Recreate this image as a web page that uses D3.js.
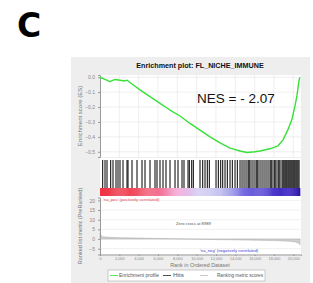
<!DOCTYPE html>
<html>
<head>
<meta charset="utf-8">
<script src="https://cdn.jsdelivr.net/npm/d3@7"></script>
<style>
  body { margin: 0; background: #fff; }
  svg { display: block; font-family: "Liberation Sans", Arial, sans-serif; }
</style>
</head>
<body>
<div id="chart"></div>
<script>
// enrichment profile (rank, ES)
var esRanks = [0, 518, 1035, 1553, 2070, 2588, 2795, 3105, 4140, 5175, 6210, 7245, 8280, 9315, 10350, 11385, 12420, 13455, 14490, 15215, 16043, 16560, 17595, 18423, 18941, 19458, 19872, 20183, 20390, 20597, 20700];
var esValues = [0, -0.015, -0.03, -0.015, -0.02, -0.025, -0.02, -0.035, -0.085, -0.13, -0.175, -0.22, -0.26, -0.31, -0.355, -0.40, -0.44, -0.475, -0.495, -0.505, -0.50, -0.495, -0.48, -0.46, -0.42, -0.35, -0.28, -0.19, -0.12, -0.02, 0.0];

// gene set hits (rank positions)
var hitRanks = [279, 518, 725, 1107, 1346, 1656, 1863, 2070, 2381, 2795, 2898, 3312, 3830, 4347, 4658, 5175, 5693, 5900, 6210, 6521, 6831, 7245, 7763, 8073, 8487, 8694, 9108,
  9243, 9491, 9657, 10350, 10629, 10868, 11106, 11313, 12006, 12244, 12492, 12699, 12938, 13176, 13455, 13693, 13973, 14211, 14490, 14697, 14904, 15111, 15318, 15525, 15732, 15939, 16146, 16353, 16560, 16767, 16974, 17181, 17388, 17595, 17802, 18009, 18216, 18423, 18630, 18837, 19044, 19251, 19458, 19665, 19872, 20079, 20286, 20493,
  15420, 16250, 17700, 18100, 18520, 18940, 19150, 19350, 19560, 19770, 19980, 20180, 20390, 20600];

// ranked list metric
var metricRanks = [0, 60, 150, 300, 600, 1000, 2000, 4000, 6000, 8989, 12000, 15000, 18000, 19500, 20200, 20500, 20650, 20700];
var metricValues = [3.0, 2.4, 1.6, 1.2, 1.0, 0.9, 0.7, 0.5, 0.3, 0, -0.3, -0.5, -0.8, -1.1, -1.5, -2.0, -2.6, -3.0];

// colour band of the ranked list
var bandStops = [0, 3000, 6000, 8000, 10000, 12500, 14500, 17000, 19500, 20700];
var bandColors = ["#ee3344", "#f04858", "#f27090", "#f4a8d8", "#d8d0f4", "#c4c4f0", "#7a70e0", "#5848d4", "#3a20c0", "#200aa0"];

var esTicks = [0, -0.1, -0.2, -0.3, -0.4, -0.5];
var metricTicks = [20, 15, 10, 5, 0, -5];
var rankTicks = [0, 2000, 4000, 6000, 8000, 10000, 12000, 14000, 16000, 18000, 20000];
var nGenes = 20700;

var W = 313, H = 283;
var svg = d3.select("#chart").append("svg").attr("width", W).attr("height", H);

// panel "C"
svg.append("text").attr("x", 17).attr("y", 37)
  .style("font-family", "DejaVu Sans").style("font-weight", "900").style("font-size", "33px")
  .text("C");

// grey panel
svg.append("rect").attr("x", 71).attr("y", 57).attr("width", 239).attr("height", 226).attr("fill", "#eeeeee");

var left = 100, right = 301;
var x = d3.scaleLinear().domain([0, 20800]).range([left, right]);

svg.append("text").attr("x", 200).attr("y", 68).attr("text-anchor", "middle")
  .style("font-weight", "bold").style("font-size", "7.2px").attr("fill", "#111")
  .text("Enrichment plot: FL_NICHE_IMMUNE");

// ---- ES plot
var yEs = d3.scaleLinear().domain([-0.535, 0.015]).range([157, 75]);
svg.append("rect").attr("x", left).attr("y", 75).attr("width", right - left).attr("height", 82).attr("fill", "#fff");

var gridX = svg.append("g");
function vgrid(y0, y1) {
  gridX.selectAll(null).data(rankTicks.slice(1)).enter().append("line")
    .attr("x1", d => x(d)).attr("x2", d => x(d)).attr("y1", y0).attr("y2", y1)
    .attr("stroke", "#e4e4e4").attr("stroke-width", 0.6);
}

svg.append("g").selectAll("line").data(esTicks).enter().append("line")
  .attr("x1", left).attr("x2", right).attr("y1", d => yEs(d)).attr("y2", d => yEs(d))
  .attr("stroke", "#e4e4e4").attr("stroke-width", 0.6);

var esAxis = svg.append("g").attr("transform", "translate(" + left + ",0)")
  .call(d3.axisLeft(yEs).tickValues(esTicks).tickFormat(d3.format(".1f")).tickSize(2).tickPadding(3));
esAxis.select(".domain").attr("stroke", "#999");
esAxis.selectAll("line").attr("stroke", "#999");
esAxis.selectAll("text").attr("fill", "#888").style("font-size", "5px").style("font-family", "Liberation Sans");

svg.append("text").attr("transform", "translate(82," + 116 + ") rotate(-90)").attr("text-anchor", "middle")
  .style("font-size", "6px").attr("fill", "#777").text("Enrichment score (ES)");

var line = d3.line().x((d, i) => x(esRanks[i])).y(d => yEs(d));
svg.append("path").datum(esValues).attr("d", line).attr("fill", "none")
  .attr("stroke", "#38e038").attr("stroke-width", 1.4).attr("stroke-linejoin", "round");

svg.append("text").attr("x", 197).attr("y", 103).style("font-size", "13.5px").attr("fill", "#111")
  .text("NES = - 2.07");

// ---- hits
svg.append("rect").attr("x", left).attr("y", 158).attr("width", right - left).attr("height", 39).attr("fill", "#fff");
svg.append("g").selectAll("line").data(hitRanks).enter().append("line")
  .attr("x1", d => x(d)).attr("x2", d => x(d)).attr("y1", 160).attr("y2", 188)
  .attr("stroke", "#000").attr("stroke-width", 1);

// colour band
var bandColor = d3.scaleLinear().domain(bandStops).range(bandColors);
var bandSteps = d3.range(0, nGenes, 100);
svg.append("g").selectAll("rect").data(bandSteps).enter().append("rect")
  .attr("x", d => x(d)).attr("width", x(100) - x(0) + 0.3).attr("y", 188).attr("height", 8)
  .attr("fill", d => bandColor(d));

// ---- ranked list metric
var yM = d3.scaleLinear().domain([-8, 21.5]).range([254.5, 197.5]);
svg.append("rect").attr("x", left).attr("y", 197).attr("width", right - left).attr("height", 57.5).attr("fill", "#fff");
svg.append("g").selectAll("line").data(metricTicks).enter().append("line")
  .attr("x1", left).attr("x2", right).attr("y1", d => yM(d)).attr("y2", d => yM(d))
  .attr("stroke", "#e8e8e8").attr("stroke-width", 0.6);

vgrid(75, 254.5);

var area = d3.area().x((d, i) => x(metricRanks[i])).y0(yM(0)).y1(d => yM(d));
svg.append("path").datum(metricValues).attr("d", area).attr("fill", "#cfcfcf")
  .attr("stroke", "#aaa").attr("stroke-width", 0.5);

var mAxis = svg.append("g").attr("transform", "translate(" + left + ",0)")
  .call(d3.axisLeft(yM).tickValues(metricTicks).tickSize(2).tickPadding(3));
mAxis.select(".domain").attr("stroke", "#999");
mAxis.selectAll("line").attr("stroke", "#999");
mAxis.selectAll("text").attr("fill", "#888").style("font-size", "5px").style("font-family", "Liberation Sans");

var xAxis = svg.append("g").attr("transform", "translate(0,254.5)")
  .call(d3.axisBottom(x).tickValues(rankTicks).tickFormat(d3.format(",")).tickSize(1.5).tickPadding(1.5));
xAxis.select(".domain").attr("stroke", "#999");
xAxis.selectAll("line").attr("stroke", "#999");
xAxis.selectAll("text").attr("fill", "#888").style("font-size", "3.9px").style("font-family", "Liberation Sans");

svg.append("text").attr("transform", "translate(82," + 226 + ") rotate(-90)").attr("text-anchor", "middle")
  .style("font-size", "5.5px").attr("fill", "#777").text("Ranked list metric (PreRanked)");

svg.append("text").attr("x", 103).attr("y", 200.5).style("font-size", "4.2px").attr("fill", "#e84050")
  .text("'na_pos' (positively correlated)");
svg.append("text").attr("x", 176).attr("y", 225).style("font-size", "4.2px").attr("fill", "#555")
  .text("Zero cross at 8989");
svg.append("text").attr("x", 200).attr("y", 252).style("font-size", "4.2px").attr("fill", "#4040d0")
  .text("'na_neg' (negatively correlated)");

svg.append("text").attr("x", 200).attr("y", 267).attr("text-anchor", "middle")
  .style("font-size", "5.4px").attr("fill", "#777").text("Rank in Ordered Dataset");

// legend
var lg = svg.append("g").attr("transform", "translate(108,270)");
lg.append("rect").attr("width", 157).attr("height", 11).attr("fill", "#fff").attr("stroke", "#aaa").attr("stroke-width", 0.6);
var legendItems = [
  { label: "Enrichment profile", color: "#38e038", lx: 2, tx: 11, w: 40 },
  { label: "Hits", color: "#222", lx: 55, tx: 65, w: 11 },
  { label: "Ranking metric scores", color: "#bbb", lx: 92, tx: 109, w: 46 }
];
legendItems.forEach(function (d) {
  lg.append("line").attr("x1", d.lx).attr("x2", d.lx + 8).attr("y1", 5.5).attr("y2", 5.5)
    .attr("stroke", d.color).attr("stroke-width", 0.8);
  lg.append("text").attr("x", d.tx).attr("y", 7.2).style("font-size", "4.6px").attr("fill", "#555")
    .attr("textLength", d.w).attr("lengthAdjust", "spacingAndGlyphs").text(d.label);
});
</script>
</body>
</html>
